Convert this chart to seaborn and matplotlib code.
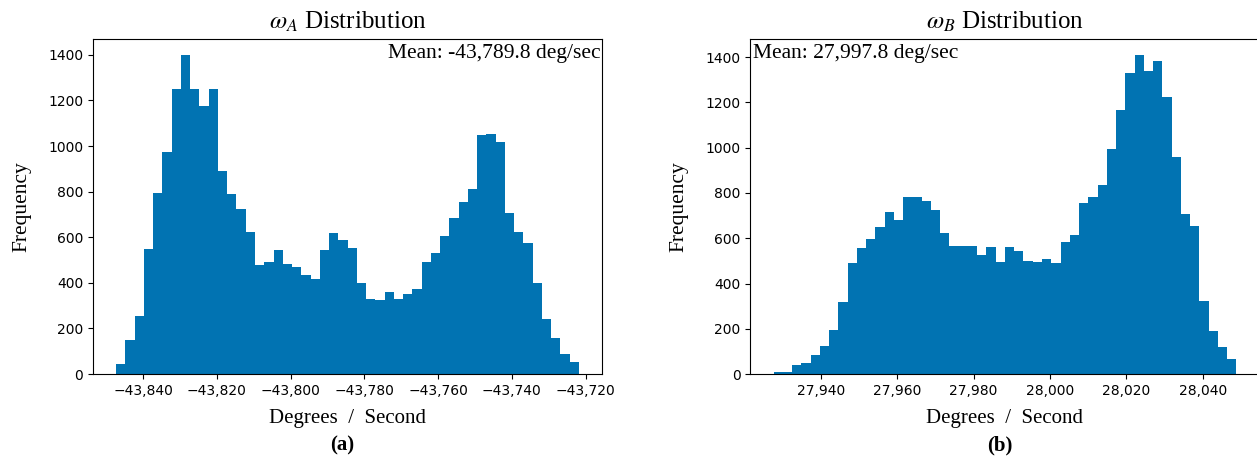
import numpy as np
import pandas as pd
import matplotlib
matplotlib.use("Agg")
import matplotlib.pyplot as plt
from matplotlib.ticker import FuncFormatter, MultipleLocator
import seaborn as sns

# ---- data ----
a_range = (-43847.3, -43721.8)
a_counts = [45, 150, 255, 550, 795, 975, 1250, 1400, 1250, 1175,
            1250, 890, 790, 725, 625, 480, 490, 545, 485, 470,
            435, 415, 545, 620, 590, 555, 400, 330, 325, 360,
            330, 350, 375, 490, 530, 605, 685, 755, 810, 1050,
            1055, 1020, 705, 625, 575, 400, 240, 160, 90, 55]
a_mean = -43789.8

b_range = (27927.6, 28048.8)
b_counts = [10, 10, 40, 50, 85, 125, 195, 320, 490, 555,
            595, 650, 715, 680, 780, 780, 765, 725, 625, 565,
            565, 565, 525, 560, 495, 560, 545, 500, 495, 510,
            490, 585, 615, 755, 780, 835, 995, 1165, 1330, 1410,
            1340, 1385, 1225, 960, 705, 655, 325, 190, 120, 65]
b_mean = 27997.8

titles = [r"$\omega_A$ Distribution", r"$\omega_B$ Distribution"]
captions = ["(a)", "(b)"]
xlabel = "Degrees  /  Second"
ylabel = "Frequency"

# ---- styling ----
serif = ["Liberation Serif", "DejaVu Serif"]
plt.rcParams["mathtext.fontset"] = "stix"
plt.rcParams["font.family"] = ["DejaVu Sans"]
color = "#0173B2"

fig = plt.figure(figsize=(12.57, 4.63), dpi=100)
ax_a = fig.add_axes([0.074, 0.192, 0.405, 0.724])
ax_b = fig.add_axes([0.597, 0.192, 0.405, 0.724])

fmt = FuncFormatter(lambda v, p: f"{v:,.0f}".replace("-", "\u2212"))


def draw(ax, rng, counts, mean, title, caption, mean_right):
    nb = len(counts)
    width = (rng[1] - rng[0]) / nb
    centers = rng[0] + width * (np.arange(nb) + 0.5)
    df = pd.DataFrame({"x": centers, "w": np.asarray(counts, float)})
    sns.histplot(data=df, x="x", weights="w", bins=nb, binrange=rng, ax=ax,
                 color=color, alpha=1, linewidth=0, edgecolor=color)
    ax.xaxis.set_major_locator(MultipleLocator(20))
    ax.yaxis.set_major_locator(MultipleLocator(200))
    ax.xaxis.set_major_formatter(fmt)
    ax.tick_params(labelsize=10)
    ax.set_xlabel(xlabel, family=serif, fontsize=15, labelpad=8)
    ax.set_ylabel(ylabel, family=serif, fontsize=15.5, labelpad=12)
    ax.set_title(title, family=serif, fontsize=18, pad=7)
    mtxt = f"Mean: {mean:,.1f} deg/sec"
    if mean_right:
        ax.text(0.998, 0.985, mtxt, transform=ax.transAxes, ha="right",
                va="top", family=serif, fontsize=15.5)
    else:
        ax.text(0.006, 0.985, mtxt, transform=ax.transAxes, ha="left",
                va="top", family=serif, fontsize=15.5)
    pos = ax.get_position()
    fig.text((pos.x0 + pos.x1) / 2 - 0.004, 0.038, caption, ha="center",
             va="center", family=serif, fontsize=15, fontweight="bold")


draw(ax_a, a_range, a_counts, a_mean, titles[0], captions[0], True)
draw(ax_b, b_range, b_counts, b_mean, titles[1], captions[1], False)

fig.savefig("out.png", dpi=100)
